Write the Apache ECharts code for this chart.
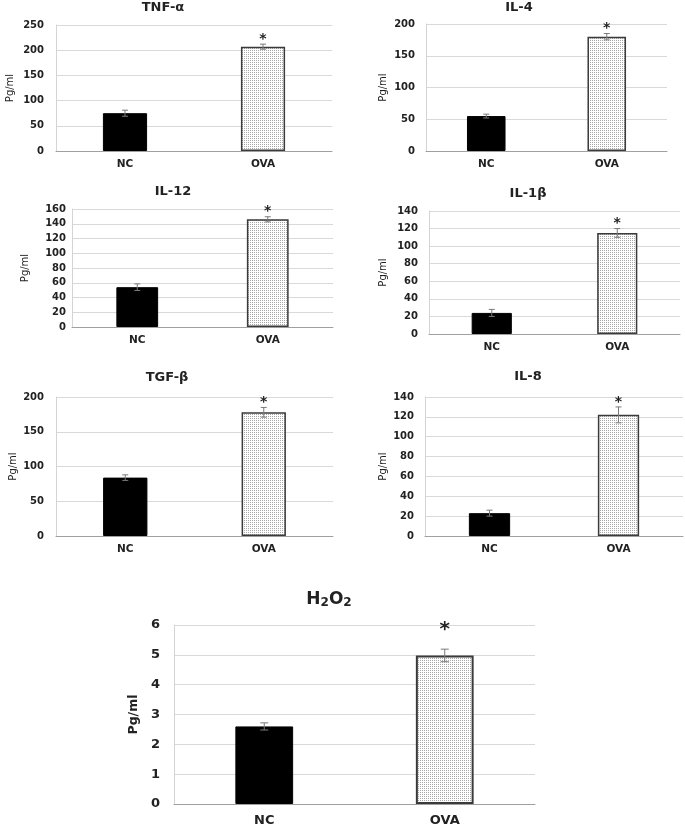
<!doctype html>
<html>
<head>
<meta charset="utf-8">
<style>
  html, body { margin: 0; padding: 0; background: #fff; }
  #main { width: 685px; height: 828px; }
</style>
</head>
<body>
<div id="main"></div>
<script src="https://cdn.jsdelivr.net/npm/echarts@6/dist/echarts.min.js"></script>
<script>
var categories = ['NC', 'OVA'];
var panelTitles = ['TNF-α', 'IL-4', 'IL-12', 'IL-1β', 'TGF-β', 'IL-8', 'H2O2'];

// group means and error bars (pg/ml)
var tnfMean = [75, 207];
var tnfErr = [6, 5];
var il4Mean = [55, 180];
var il4Err = [3, 5];
var il12Mean = [54, 146];
var il12Err = [4.5, 3.5];
var il1bMean = [24, 115];
var il1bErr = [4, 5];
var tgfMean = [84, 178];
var tgfErr = [4, 7];
var il8Mean = [23, 122];
var il8Err = [3, 8];
var h2o2Mean = [2.6, 4.98];
var h2o2Err = [0.12, 0.21];

var axisMax = [250, 200, 160, 140, 200, 140, 6];
var axisStep = [50, 50, 20, 20, 50, 20, 1];
var starred = [false, true];

var means = [tnfMean, il4Mean, il12Mean, il1bMean, tgfMean, il8Mean, h2o2Mean];
var errs = [tnfErr, il4Err, il12Err, il1bErr, tgfErr, il8Err, h2o2Err];

// panel layout in pixels
var panels = [
    {left: 56, top: 25, width: 276, height: 126, titleX: 163, titleY: 8, margin: 12, nameGap: 41},
    {left: 426, top: 24, width: 241, height: 127, titleX: 519, titleY: 8, margin: 11, nameGap: 38},
    {left: 72, top: 209, width: 261, height: 118, titleX: 173, titleY: 192, margin: 6, nameGap: 42},
    {left: 429, top: 211, width: 251, height: 123, titleX: 528, titleY: 194, margin: 11, nameGap: 41},
    {left: 56, top: 397, width: 277, height: 139, titleX: 167, titleY: 378, margin: 12, nameGap: 38},
    {left: 425, top: 397, width: 258, height: 139, titleX: 528, titleY: 377, margin: 11, nameGap: 37},
    {left: 174, top: 625, width: 361, height: 179, titleX: 329, titleY: 600, margin: 14, nameGap: 32, big: true}
];

// fine dotted fill used for the OVA bars
var dots = document.createElement('canvas');
dots.width = 2;
dots.height = 2;
var dctx = dots.getContext('2d');
dctx.fillStyle = '#ffffff';
dctx.fillRect(0, 0, 2, 2);
dctx.fillStyle = '#a8a8a8';
dctx.fillRect(0, 0, 1, 1);

var chart = echarts.init(document.getElementById('main'));

var grid = [], xAxis = [], yAxis = [], series = [], graphic = [];

panels.forEach(function (p, k) {
    var big = !!p.big;
    grid.push({left: p.left, top: p.top, width: p.width, height: p.height, containLabel: false});
    xAxis.push({
        type: 'category',
        gridIndex: k,
        data: categories,
        axisTick: {show: false},
        axisLine: {lineStyle: {color: '#a0a0a0', width: 1}},
        axisLabel: {
            margin: big ? 10 : 8,
            fontFamily: 'DejaVu Sans',
            fontWeight: 'bold',
            fontSize: big ? 13 : 10.5,
            color: '#222'
        }
    });
    yAxis.push({
        type: 'value',
        gridIndex: k,
        min: 0,
        max: axisMax[k],
        interval: axisStep[k],
        name: 'Pg/ml',
        nameLocation: 'middle',
        nameRotate: 90,
        nameGap: p.nameGap,
        nameTextStyle: {
            fontFamily: 'DejaVu Sans',
            fontSize: big ? 12.5 : 10,
            fontWeight: big ? 'bold' : 'normal',
            color: '#222'
        },
        axisLine: {show: true, lineStyle: {color: '#d4d4d4'}},
        axisTick: {show: false},
        splitLine: {lineStyle: {color: '#d9d9d9', width: 1}},
        axisLabel: {
            margin: p.margin,
            fontFamily: 'DejaVu Sans',
            fontWeight: 'bold',
            fontSize: big ? 13 : 10,
            color: '#222'
        }
    });

    series.push({
        type: 'bar',
        xAxisIndex: k,
        yAxisIndex: k,
        barWidth: '32%',
        silent: true,
        animation: false,
        data: means[k].map(function (v, i) {
            return {
                value: v,
                itemStyle: i === 0
                    ? {color: '#000', borderColor: '#000', borderWidth: 1}
                    : {color: {image: dots, repeat: 'repeat'}, borderColor: '#3a3a3a', borderWidth: big ? 2 : 1.5}
            };
        })
    });

    series.push({
        type: 'custom',
        xAxisIndex: k,
        yAxisIndex: k,
        silent: true,
        animation: false,
        z: 5,
        data: means[k].map(function (v, i) { return [i, v, errs[k][i], starred[i] ? 1 : 0]; }),
        renderItem: function (params, api) {
            var i = api.value(0), m = api.value(1), e = api.value(2);
            var hi = api.coord([i, m + e]);
            var lo = api.coord([i, m - e]);
            var cap = big ? 4 : 3;
            var style = {stroke: '#7a7a7a', lineWidth: 1};
            var children = [
                {type: 'line', shape: {x1: hi[0], y1: hi[1], x2: lo[0], y2: lo[1]}, style: style},
                {type: 'line', shape: {x1: hi[0] - cap, y1: hi[1], x2: hi[0] + cap, y2: hi[1]}, style: style},
                {type: 'line', shape: {x1: lo[0] - cap, y1: lo[1], x2: lo[0] + cap, y2: lo[1]}, style: style}
            ];
            if (api.value(3)) {
                children.push({
                    type: 'text',
                    x: hi[0],
                    y: hi[1] - (big ? 19 : 5),
                    style: {
                        text: '*',
                        fontFamily: 'DejaVu Sans',
                        fontWeight: 'bold',
                        fontSize: big ? 20 : 14,
                        fill: '#222',
                        align: 'center',
                        verticalAlign: 'middle'
                    }
                });
            }
            return {type: 'group', children: children};
        }
    });

    var titleStyle;
    if (panelTitles[k] === 'H2O2') {
        titleStyle = {
            text: '{a|H}{b|2}{a|O}{b|2}',
            rich: {
                a: {fontFamily: 'DejaVu Sans', fontWeight: 'bold', fontSize: 17, fill: '#222'},
                b: {fontFamily: 'DejaVu Sans', fontWeight: 'bold', fontSize: 12, fill: '#222', verticalAlign: 'bottom'}
            },
            align: 'center',
            verticalAlign: 'middle'
        };
    } else {
        titleStyle = {
            text: panelTitles[k],
            fontFamily: 'DejaVu Sans',
            fontWeight: 'bold',
            fontSize: 13,
            fill: '#222',
            align: 'center',
            verticalAlign: 'middle'
        };
    }
    graphic.push({type: 'text', x: p.titleX, y: p.titleY, silent: true, style: titleStyle});
});

chart.setOption({
    animation: false,
    backgroundColor: '#fff',
    grid: grid,
    xAxis: xAxis,
    yAxis: yAxis,
    series: series,
    graphic: graphic
});

window.addEventListener('resize', function () {
    chart.resize();
});
</script>
</body>
</html>
